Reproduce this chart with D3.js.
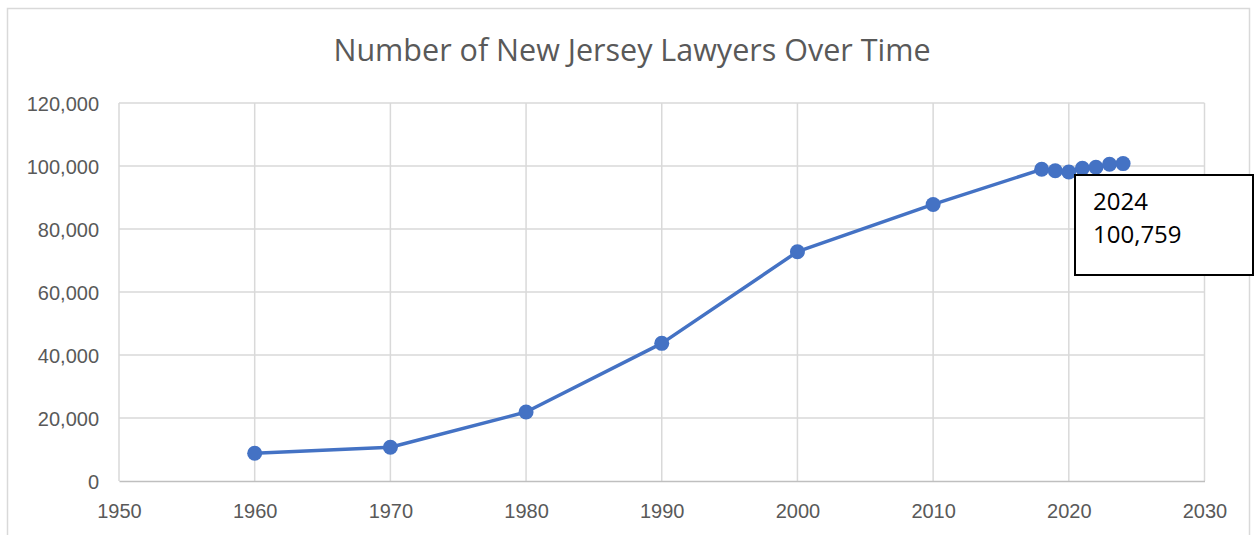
<!DOCTYPE html>
<html>
<head>
<meta charset="utf-8">
<script src="https://cdn.jsdelivr.net/npm/d3@7"></script>
<style>
  body { margin: 0; background: #fff; }
  svg { display: block; font-family: "Open Sans", "Noto Sans", sans-serif; }
</style>
</head>
<body>
<svg id="svg1" width="1255" height="535"></svg>
<script>
// data
var years = [1960, 1970, 1980, 1990, 2000, 2010, 2018, 2019, 2020, 2021, 2022, 2023, 2024];
var lawyers = [8800, 10700, 21900, 43700, 72800, 87800, 98950, 98500, 98100, 99270, 99600, 100540, 100759];
var xTicks = [1950, 1960, 1970, 1980, 1990, 2000, 2010, 2020, 2030];
var yTicks = [0, 20000, 40000, 60000, 80000, 100000, 120000];
var calloutYear = 2024;
var calloutValue = 100759;

var svg = d3.select('#svg1');

// chart frame
svg.append('rect')
    .attr('x', 7.5).attr('y', 8.5)
    .attr('width', 1242).attr('height', 540)
    .attr('fill', 'none')
    .attr('stroke', '#d9d9d9')
    .attr('stroke-width', 1.5);

var plotLeft = 119, plotRight = 1204.5, plotTop = 103, plotBottom = 481;

var x = d3.scaleLinear().domain([1950, 2030]).range([plotLeft, plotRight]);
var y = d3.scaleLinear().domain([0, 120000]).range([plotBottom, plotTop]);

// title
svg.append('text')
    .attr('x', 632).attr('y', 61)
    .attr('text-anchor', 'middle')
    .attr('fill', '#595959')
    .style('font-size', '30.5px')
    .text('Number of New Jersey Lawyers Over Time');

// gridlines
svg.append('g').selectAll('line')
    .data(yTicks.slice(1))
    .enter().append('line')
    .attr('x1', plotLeft).attr('x2', plotRight)
    .attr('y1', function(d){ return y(d); })
    .attr('y2', function(d){ return y(d); })
    .attr('stroke', '#d9d9d9').attr('stroke-width', 1.5);

svg.append('g').selectAll('line')
    .data(xTicks)
    .enter().append('line')
    .attr('x1', function(d){ return x(d); })
    .attr('x2', function(d){ return x(d); })
    .attr('y1', plotTop).attr('y2', plotBottom)
    .attr('stroke', '#d9d9d9').attr('stroke-width', 1.5);

// axes
var fmt = d3.format(',');
var yAxis = svg.append('g')
    .attr('transform', 'translate(' + (plotLeft - 20) + ',0)')
    .call(d3.axisLeft(y).tickValues(yTicks).tickFormat(fmt).tickSize(0).tickPadding(0));
yAxis.select('.domain').remove();
yAxis.selectAll('text').attr('fill', '#595959').style('font-size', '20px').attr('dy', '0.35em');

var xAxis = svg.append('g')
    .attr('transform', 'translate(0,' + plotBottom + ')')
    .call(d3.axisBottom(x).tickValues(xTicks).tickFormat(d3.format('d')).tickSize(0).tickPadding(23));
xAxis.select('.domain').attr('stroke', '#bfbfbf').attr('stroke-width', 1.5);
xAxis.selectAll('text').attr('fill', '#595959').style('font-size', '20px');

// series line
var line = d3.line()
    .x(function(d, i){ return x(years[i]); })
    .y(function(d){ return y(d); });

svg.append('path')
    .datum(lawyers)
    .attr('d', line)
    .attr('fill', 'none')
    .attr('stroke', '#4472c4')
    .attr('stroke-width', 3.5)
    .attr('stroke-linejoin', 'round');

svg.append('g').selectAll('circle')
    .data(lawyers)
    .enter().append('circle')
    .attr('cx', function(d, i){ return x(years[i]); })
    .attr('cy', function(d){ return y(d); })
    .attr('r', 7.5)
    .attr('fill', '#4472c4');

// callout box
var box = svg.append('g').attr('transform', 'translate(1075,175)');
box.append('rect')
    .attr('width', 178).attr('height', 100)
    .attr('fill', '#fff')
    .attr('stroke', '#000')
    .attr('stroke-width', 2);
box.append('text')
    .attr('x', 18).attr('y', 35)
    .style('font-size', '24px')
    .attr('fill', '#000')
    .text(calloutYear);
box.append('text')
    .attr('x', 18).attr('y', 68)
    .style('font-size', '24px')
    .attr('fill', '#000')
    .text(fmt(calloutValue));
</script>
</body>
</html>
